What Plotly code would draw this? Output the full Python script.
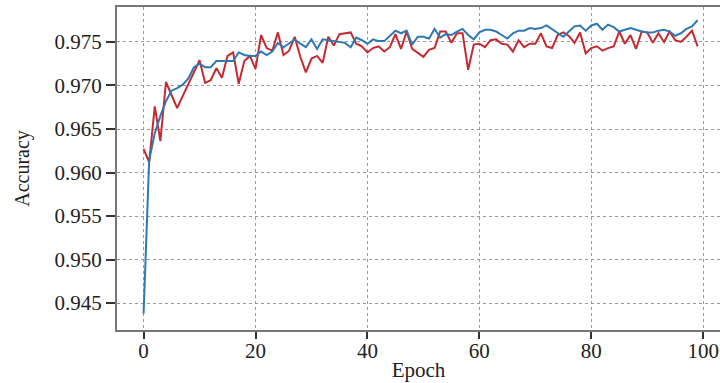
import plotly.graph_objects as go

epochs = list(range(100))

train_acc = [
    0.9438, 0.9614, 0.9645, 0.9665, 0.9682, 0.9694, 0.9697, 0.9701, 0.9708, 0.9721,
    0.9725, 0.9721, 0.9721, 0.9728, 0.9728, 0.9728, 0.9728, 0.9738, 0.9735, 0.9734,
    0.9734, 0.9739, 0.9735, 0.9739, 0.9749, 0.9744, 0.9748, 0.9753, 0.9748, 0.9744,
    0.9753, 0.9742, 0.9753, 0.9752, 0.9751, 0.9750, 0.9749, 0.9744, 0.9755, 0.9752,
    0.9748, 0.9753, 0.9751, 0.9751, 0.9757, 0.9763, 0.9760, 0.9763, 0.9747, 0.9756,
    0.9756, 0.9754, 0.9765, 0.9755, 0.9759, 0.9758, 0.9762, 0.9765, 0.9758, 0.9753,
    0.9761, 0.9764, 0.9764, 0.9762, 0.9758, 0.9754, 0.9760, 0.9763, 0.9763, 0.9766,
    0.9765, 0.9766, 0.9769, 0.9765, 0.9761, 0.9756, 0.9762, 0.9768, 0.9769, 0.9763,
    0.9769, 0.9771, 0.9764, 0.9770, 0.9767, 0.9762, 0.9764, 0.9766, 0.9764, 0.9762,
    0.9761, 0.9761, 0.9763, 0.9764, 0.9762, 0.9757, 0.9760, 0.9765, 0.9768, 0.9775,
]

val_acc = [
    0.9627, 0.9612, 0.9676, 0.9636, 0.9704, 0.9689, 0.9674, 0.9688, 0.9702, 0.9716,
    0.9729, 0.9703, 0.9706, 0.9720, 0.9709, 0.9734, 0.9738, 0.9702, 0.9728, 0.9734,
    0.9719, 0.9758, 0.9743, 0.9740, 0.9761, 0.9735, 0.9740, 0.9756, 0.9733, 0.9715,
    0.9731, 0.9734, 0.9726, 0.9756, 0.9746, 0.9759, 0.9760, 0.9761, 0.9748, 0.9745,
    0.9738, 0.9743, 0.9745, 0.9739, 0.9744, 0.9759, 0.9742, 0.9762, 0.9742, 0.9738,
    0.9733, 0.9741, 0.9743, 0.9762, 0.9762, 0.9749, 0.9760, 0.9760, 0.9718, 0.9747,
    0.9748, 0.9744, 0.9752, 0.9753, 0.9748, 0.9747, 0.9739, 0.9752, 0.9744, 0.9748,
    0.9748, 0.9760, 0.9745, 0.9743, 0.9758, 0.9761, 0.9757, 0.9749, 0.9761, 0.9737,
    0.9743, 0.9745, 0.9740, 0.9743, 0.9745, 0.9762, 0.9748, 0.9758, 0.9742, 0.9762,
    0.9761, 0.9749, 0.9760, 0.9750, 0.9762, 0.9752, 0.9750, 0.9756, 0.9763, 0.9745,
]

x_ticks = [0, 20, 40, 60, 80, 100]
y_ticks = [0.945, 0.950, 0.955, 0.960, 0.965, 0.970, 0.975]
y_tick_labels = ["0.945", "0.950", "0.955", "0.960", "0.965", "0.970", "0.975"]

fig = go.Figure()
fig.add_trace(go.Scatter(x=epochs, y=val_acc, mode="lines",
                         line=dict(color="#c42a2f", width=2), name="val"))
fig.add_trace(go.Scatter(x=epochs, y=train_acc, mode="lines",
                         line=dict(color="#2f78b3", width=2), name="train"))

font_family = "Liberation Serif, Times New Roman, serif"

fig.update_layout(
    width=720, height=383,
    margin=dict(l=117, r=0, t=7, b=53, autoexpand=False),
    paper_bgcolor="white", plot_bgcolor="white",
    showlegend=False,
    font=dict(family=font_family, color="#222", size=16),
    xaxis=dict(
        range=[-4.75, 103],
        tickvals=x_ticks,
        ticks="outside", ticklen=7, tickwidth=2, tickcolor="#333",
        showline=True, linecolor="#777", linewidth=2, mirror=True,
        showgrid=True, gridcolor="#9a9a9a", griddash="dot", gridwidth=1,
        zeroline=False, automargin=False,
        tickfont=dict(size=21, family=font_family),
        ticklabelstandoff=-6,
        title=dict(text="Epoch", font=dict(size=21, family=font_family), standoff=0),
    ),
    yaxis=dict(
        range=[0.9419, 0.97902],
        tickvals=y_ticks, ticktext=y_tick_labels,
        ticks="outside", ticklen=9, tickwidth=2, tickcolor="#333",
        showline=True, linecolor="#777", linewidth=2,
        showgrid=True, gridcolor="#9a9a9a", griddash="dot", gridwidth=1,
        zeroline=False, automargin=False,
        tickfont=dict(size=21, family=font_family),
        title=dict(text="Accuracy", font=dict(size=20, family=font_family), standoff=20),
    ),
)

fig.write_html("out.html", config={"displayModeBar": False},
               post_script="document.body.style.margin='0';document.body.style.padding='0';")
